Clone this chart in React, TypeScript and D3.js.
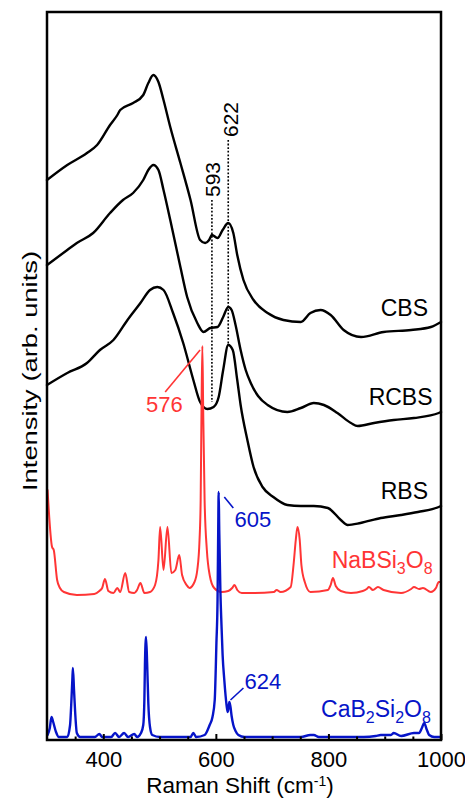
import React, { useRef, useEffect } from 'react';
import * as d3 from 'd3';

const width = 465;
const height = 799;
const margin = { top: 12, right: 24, bottom: 59, left: 47 };

// [Raman shift (cm-1), intensity incl. stacking offset (arb. units)]
const cbs: [number, number][] = [
  [300, 560], [336, 575], [371, 587], [389, 595], [412, 615], [425, 625], [430, 630],
  [453, 637], [471, 645], [480, 657], [489, 665], [498, 658], [507, 640], [519, 613],
  [537, 577], [555, 540], [572, 500], [581, 497], [588, 500], [593, 505], [603, 502],
  [612, 510], [622, 517], [631, 507], [638, 485], [649, 460], [667, 440], [692, 427],
  [720, 420], [751, 418], [768, 427], [786, 430], [804, 425], [827, 410], [858, 403],
  [898, 408], [947, 410], [982, 413], [1000, 418],
];

const rcbs: [number, number][] = [
  [300, 475], [336, 490], [353, 497], [382, 507], [412, 527], [435, 540], [453, 547],
  [471, 560], [480, 570], [489, 575], [498, 570], [507, 550], [519, 520], [537, 473],
  [549, 443], [567, 417], [578, 408], [590, 412], [603, 413], [613, 423], [622, 433],
  [628, 430], [635, 415], [644, 390], [653, 370], [662, 357], [675, 344], [692, 335],
  [727, 328], [751, 332], [774, 337], [792, 335], [816, 327], [840, 317], [852, 314],
  [881, 317], [916, 320], [952, 322], [996, 327], [1000, 328],
];

const rbs: [number, number][] = [
  [300, 355], [336, 367], [371, 377], [394, 390], [418, 400], [443, 420], [466, 437],
  [483, 450], [496, 453], [507, 450], [524, 427], [542, 397], [560, 360], [572, 338],
  [585, 331], [596, 333], [605, 343], [613, 370], [622, 395], [630, 390], [638, 360],
  [644, 335], [656, 300], [667, 273], [683, 253], [702, 243], [727, 235], [751, 234],
  [774, 234], [799, 232], [822, 220], [834, 215], [857, 217], [893, 222], [929, 225],
  [959, 228], [996, 233], [1000, 234],
];

const naBSi3O8: [number, number][] = [
  [301, 250], [309, 193], [312, 190], [318, 160], [323, 152], [330, 148], [353, 145],
  [384, 146], [393, 149], [398, 152], [403, 161], [409, 149], [418, 147], [425, 152],
  [430, 148], [439, 167], [446, 148], [455, 147], [460, 150], [466, 157], [473, 147],
  [483, 148], [492, 155], [498, 180], [501, 213], [507, 170], [514, 213], [521, 167],
  [528, 170], [535, 185], [540, 165], [548, 155], [553, 152], [562, 158], [567, 170],
  [571, 200], [573, 240], [574.5, 330], [576, 394], [577.5, 330], [580, 240], [584, 190],
  [589, 165], [597, 152], [610, 148], [622, 149], [629, 152], [633, 155], [638, 150],
  [646, 147], [669, 147], [703, 148], [708, 150], [715, 148], [733, 153], [738, 175],
  [742, 200], [745, 213], [749, 200], [752, 175], [758, 158], [768, 148], [799, 150],
  [804, 155], [808, 162], [813, 154], [822, 149], [840, 147], [861, 149], [868, 151],
  [872, 153], [879, 150], [888, 153], [898, 150], [929, 147], [947, 151], [952, 153],
  [961, 151], [968, 152], [982, 148], [991, 152], [996, 158], [1000, 158],
];

const caB2Si2O8: [number, number][] = [
  [301, 5], [305, 12], [308, 23], [311, 18], [316, 8], [321, 3], [336, 3], [341, 15],
  [343, 35], [345, 60], [346, 72], [348, 50], [350, 28], [353, 7], [359, 3], [385, 3],
  [393, 6], [398, 3], [414, 3], [421, 7], [428, 3], [437, 7], [444, 3], [455, 6],
  [460, 3], [467, 7], [471, 15], [473, 40], [474, 75], [476, 103], [478, 75], [480, 37],
  [483, 13], [487, 5], [501, 3], [555, 3], [560, 7], [565, 3], [580, 5], [589, 15],
  [594, 23], [598, 40], [601, 97], [603, 140], [604.2, 210], [605, 248], [606, 210],
  [608, 150], [610, 115], [612, 85], [615, 60], [619, 35], [621, 28], [622.5, 32],
  [624, 38], [626, 33], [628, 24], [631, 15], [635, 9], [640, 5], [651, 3], [751, 3],
  [768, 5], [774, 5], [783, 3], [863, 3], [884, 4], [893, 5], [911, 5], [916, 7],
  [929, 4], [952, 7], [961, 7], [966, 12], [970, 17], [975, 10], [979, 5], [988, 3],
  [1000, 3],
];

const majorTicks = [400, 600, 800, 1000];
const minorTicks = [350, 450, 500, 550, 650, 700, 750, 850, 900, 950];

// dotted guide lines: [shift, y from, y to]
const guides: [number, number, number][] = [
  [593, 540, 338],
  [622, 600, 395],
];

const x = d3.scaleLinear().domain([300, 1000]).range([margin.left, width - margin.right]);
const y = d3.scaleLinear().domain([0, 728]).range([height - margin.bottom, margin.top]);

const RED = '#ff3535';
const BLUE = '#0614c8';
const FONT = '"Liberation Sans", Arial, sans-serif';

const line = d3
  .line<[number, number]>()
  .x((d) => x(d[0]))
  .y((d) => y(d[1]))
  .curve(d3.curveMonotoneX);

const App = () => {
  const axisRef = useRef<SVGGElement>(null);

  useEffect(() => {
    const g = d3.select(axisRef.current);
    g.selectAll('*').remove();

    g.append('g')
      .call(d3.axisBottom(x).tickValues(minorTicks).tickSize(-3.5).tickFormat(() => ''))
      .call((a) => a.select('.domain').remove())
      .call((a) => a.selectAll('line').attr('stroke-width', 2));

    g.append('g')
      .call(d3.axisBottom(x).tickValues(majorTicks).tickSize(-6).tickPadding(11).tickFormat(d3.format('d')))
      .call((a) => a.select('.domain').remove())
      .call((a) => a.selectAll('line').attr('stroke-width', 2))
      .call((a) =>
        a.selectAll('text').attr('font-size', 22).attr('font-family', FONT).attr('fill', '#000')
      );
  }, []);

  const plotW = width - margin.left - margin.right;
  const plotH = height - margin.top - margin.bottom;

  return (
    <div style={{ position: 'fixed', left: 0, top: 0 }}>
      <svg width={width} height={height} style={{ display: 'block', background: '#fff' }}>
        <g fill="none" strokeLinejoin="round" strokeLinecap="round">
          <path d={line(cbs) ?? ''} stroke="#000" strokeWidth={2.4} />
          <path d={line(rcbs) ?? ''} stroke="#000" strokeWidth={2.4} />
          <path d={line(rbs) ?? ''} stroke="#000" strokeWidth={2.4} />
          <path d={line(naBSi3O8) ?? ''} stroke={RED} strokeWidth={2} />
          <path d={line(caB2Si2O8) ?? ''} stroke={BLUE} strokeWidth={2.4} />
        </g>

        {guides.map(([v, y0, y1]) => (
          <line
            key={v}
            x1={x(v)}
            x2={x(v)}
            y1={y(y0)}
            y2={y(y1)}
            stroke="#000"
            strokeWidth={1.6}
            strokeDasharray="1.8,1.8"
          />
        ))}

        {/* leader lines */}
        <line x1={x(510)} y1={y(348)} x2={x(572)} y2={y(390)} stroke={RED} strokeWidth={1.6} />
        <line x1={x(615)} y1={y(243)} x2={x(631)} y2={y(232)} stroke={BLUE} strokeWidth={1.6} />
        <line x1={x(626)} y1={y(40)} x2={x(649)} y2={y(52)} stroke={BLUE} strokeWidth={1.6} />

        <g fontFamily={FONT} fontSize={23}>
          <text transform={`translate(${x(593) + 8},${y(543)}) rotate(-90)`} fontSize={21}>593</text>
          <text transform={`translate(${x(622) + 10},${y(603)}) rotate(-90)`} fontSize={21}>622</text>

          <text x={x(977)} y={y(424)} textAnchor="end">CBS</text>
          <text x={x(985)} y={y(335)} textAnchor="end">RCBS</text>
          <text x={x(977)} y={y(241)} textAnchor="end">RBS</text>

          <text x={x(476)} y={y(328)} fontSize={22} fill={RED}>576</text>
          <text x={x(633)} y={y(213)} fontSize={22} fill={BLUE}>605</text>
          <text x={x(651)} y={y(51)} fontSize={22} fill={BLUE}>624</text>

          <text x={x(985)} y={y(172)} textAnchor="end" fill={RED}>
            NaBSi<tspan dy={6} fontSize={16}>3</tspan>
            <tspan dy={-6}>O</tspan>
            <tspan dy={6} fontSize={16}>8</tspan>
          </text>
          <text x={x(982)} y={y(23)} textAnchor="end" fill={BLUE}>
            CaB<tspan dy={6} fontSize={16}>2</tspan>
            <tspan dy={-6}>Si</tspan>
            <tspan dy={6} fontSize={16}>2</tspan>
            <tspan dy={-6}>O</tspan>
            <tspan dy={6} fontSize={16}>8</tspan>
          </text>

          <text x={240} y={793} textAnchor="middle" fontSize={22.5}>
            Raman Shift (cm<tspan dy={-7} fontSize={14}>-1</tspan>
            <tspan dy={7}>)</tspan>
          </text>

          <text
            transform={`translate(37,${margin.top + plotH / 2 - 5}) rotate(-90)`}
            textAnchor="middle"
            fontSize={21}
            textLength={240}
            lengthAdjust="spacingAndGlyphs"
          >
            Intensity (arb. units)
          </text>
        </g>

        <g ref={axisRef} transform={`translate(0,${height - margin.bottom})`} />

        <rect
          x={margin.left}
          y={margin.top}
          width={plotW}
          height={plotH}
          fill="none"
          stroke="#000"
          strokeWidth={2.5}
        />
      </svg>
    </div>
  );
};

export default App;
